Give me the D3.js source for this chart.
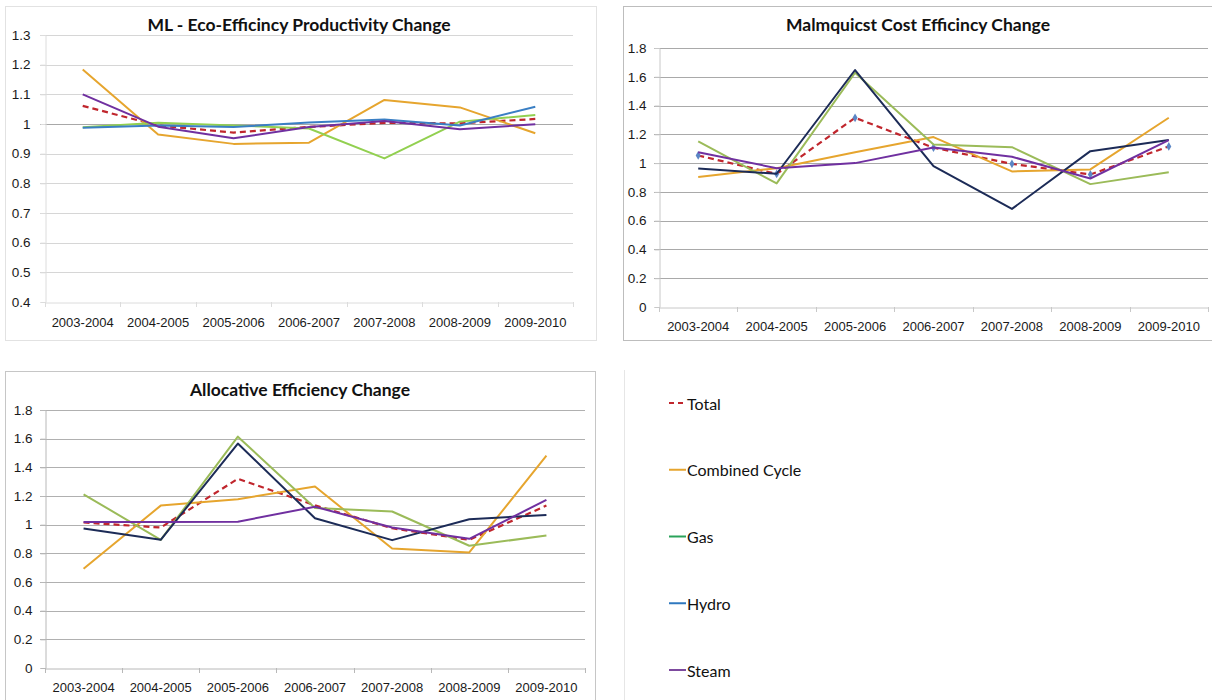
<!DOCTYPE html>
<html>
<head>
<meta charset="utf-8">
<script src="https://cdn.jsdelivr.net/npm/d3@7"></script>
<style>
  html, body { margin: 0; padding: 0; background: #fff; }
  svg { display: block; font-family: Lato, "Noto Sans", sans-serif; }
</style>
</head>
<body>
<svg id="chart" width="1212" height="700"></svg>
<script>
// ---------- DATA ----------
const categories = ["2003-2004","2004-2005","2005-2006","2006-2007","2007-2008","2008-2009","2009-2010"];
const seriesNames = ["Total","Combined Cycle","Gas","Hydro","Steam"];

// ML - Eco-Efficincy Productivity Change
const ecoTicks = [0.4,0.5,0.6,0.7,0.8,0.9,1,1.1,1.2,1.3];
const ecoTotal    = [1.061, 0.995, 0.971, 0.990, 1.004, 1.002, 1.017];
const ecoCombined = [1.184, 0.965, 0.933, 0.937, 1.081, 1.056, 0.969];
const ecoGas      = [0.989, 1.004, 0.995, 0.985, 0.884, 1.008, 1.030];
const ecoHydro    = [0.987, 0.995, 0.990, 1.005, 1.015, 0.995, 1.058];
const ecoSteam    = [1.100, 0.991, 0.952, 0.990, 1.010, 0.982, 0.999];

// Malmquicst Cost Efficincy Change
const costTicks = [0,0.2,0.4,0.6,0.8,1,1.2,1.4,1.6,1.8];
const costTotal    = [1.053, 0.925, 1.315, 1.107, 0.995, 0.921, 1.116];
const costCombined = [0.903, 0.965, 1.076, 1.181, 0.942, 0.956, 1.315];
const costGas      = [1.151, 0.859, 1.628, 1.130, 1.111, 0.854, 0.937];
const costHydro    = [0.963, 0.926, 1.647, 0.979, 0.682, 1.083, 1.160];
const costSteam    = [1.076, 0.965, 1.000, 1.109, 1.044, 0.893, 1.160];

// Allocative Efficiency Change
const allocTicks = [0,0.2,0.4,0.6,0.8,1,1.2,1.4,1.6,1.8];
const allocTotal    = [1.015, 0.980, 1.320, 1.135, 0.975, 0.894, 1.133];
const allocCombined = [0.692, 1.133, 1.178, 1.266, 0.834, 0.806, 1.482];
const allocGas      = [1.212, 0.894, 1.614, 1.117, 1.092, 0.853, 0.924];
const allocHydro    = [0.973, 0.894, 1.566, 1.045, 0.892, 1.038, 1.068];
const allocSteam    = [1.019, 1.019, 1.021, 1.125, 0.980, 0.901, 1.173];

// ---------- DRAWING ----------
const svg = d3.select("#chart");

function drawPanel(cfg) {
  const g = svg.append("g");
  g.append("rect")
    .attr("x", cfg.box[0] + 0.5).attr("y", cfg.box[1] + 0.5)
    .attr("width", cfg.box[2]).attr("height", cfg.box[3])
    .attr("fill", "none").attr("stroke", cfg.borderColor).attr("stroke-width", 1);

  const x = d3.scaleBand().domain(categories).range([cfg.left, cfg.right]).paddingInner(0).paddingOuter(0);
  const y = d3.scaleLinear().domain(cfg.domain).range([cfg.bottom, cfg.top]);
  const cx = c => x(c) + x.bandwidth() / 2;

  g.append("g").selectAll("line")
    .data(cfg.ticks.filter(t => t !== cfg.domain[0]))
    .join("line")
    .attr("x1", cfg.left - 5).attr("x2", cfg.right)
    .attr("y1", d => Math.round(y(d)) + 0.5).attr("y2", d => Math.round(y(d)) + 0.5)
    .attr("stroke", d => (cfg.oneLine && d === 1) ? cfg.oneLine : cfg.gridColor)
    .attr("stroke-width", 1);

  const yAxis = d3.axisLeft(y).tickValues(cfg.ticks).tickSize(5).tickPadding(cfg.labelPad)
    .tickFormat(d => d3.format("~g")(d));
  const ya = g.append("g").attr("transform", `translate(${cfg.left + 0.5},0)`).call(yAxis);
  ya.select(".domain").attr("stroke", cfg.axisColor);
  ya.selectAll(".tick line").attr("stroke", cfg.axisColor);
  ya.selectAll(".tick text").attr("font-size", 13.5).attr("fill", "#1a1a1a");

  const xAxis = d3.axisBottom(x).tickSize(0).tickPadding(cfg.xPad);
  const xa = g.append("g").attr("transform", `translate(0,${Math.round(cfg.bottom) + 0.5})`).call(xAxis);
  xa.select(".domain").attr("stroke", cfg.axisColor);
  xa.selectAll(".tick text").attr("font-size", 13).attr("fill", "#1a1a1a");
  const edges = categories.map(c => x(c)).concat([cfg.right]);
  g.append("g").selectAll("line").data(edges).join("line")
    .attr("x1", d => Math.round(d) + 0.5).attr("x2", d => Math.round(d) + 0.5)
    .attr("y1", Math.round(cfg.bottom)).attr("y2", Math.round(cfg.bottom) + 5)
    .attr("stroke", cfg.axisColor);

  g.append("text")
    .attr("x", cfg.titleX).attr("y", cfg.titleY)
    .attr("text-anchor", "middle").attr("dominant-baseline", "central")
    .attr("font-size", 17.5).attr("font-weight", "bold").attr("fill", "#111")
    .text(cfg.title);

  const line = d3.line().x((d, i) => cx(categories[i])).y(d => y(d));
  cfg.series.forEach(s => {
    g.append("path")
      .datum(s.values)
      .attr("d", line)
      .attr("fill", "none")
      .attr("stroke", s.color)
      .attr("stroke-width", s.width || 2)
      .attr("stroke-dasharray", s.dash || null)
      .attr("stroke-linejoin", "round");
    if (s.marker) {
      g.append("g").selectAll("path").data(s.values).join("path")
        .attr("d", d3.symbol(d3.symbolDiamond, 22))
        .attr("transform", (d, i) => `translate(${cx(categories[i])},${y(d)})`)
        .attr("fill", s.marker);
    }
  });
}

const red = "#c0262d", gold = "#e6a52e", purple = "#7030a0";

drawPanel({
  box: [5, 6, 591, 334], borderColor: "#e2e2e2",
  left: 45, right: 573, top: 35, bottom: 302, domain: [0.4, 1.3], ticks: ecoTicks,
  gridColor: "#d6d6d6", oneLine: "#a8a8a8", axisColor: "#dcdcdc", labelPad: 10, xPad: 15,
  title: "ML - Eco-Efficincy Productivity Change", titleX: 299, titleY: 24,
  series: [
    { values: ecoTotal, color: red, dash: "6,4", width: 2.2 },
    { values: ecoCombined, color: gold },
    { values: ecoGas, color: "#92d050" },
    { values: ecoHydro, color: "#3a7fc4" },
    { values: ecoSteam, color: purple }
  ]
});

drawPanel({
  box: [623, 6, 600, 334], borderColor: "#bdbdbd",
  left: 659, right: 1208, top: 48, bottom: 307, domain: [0, 1.8], ticks: costTicks,
  gridColor: "#a9a9a9", axisColor: "#c8c8c8", labelPad: 8, xPad: 14,
  title: "Malmquicst Cost Efficincy Change", titleX: 918, titleY: 24,
  series: [
    { values: costTotal, color: red, dash: "6,4", width: 2.2, marker: "#5b86c5" },
    { values: costCombined, color: gold },
    { values: costGas, color: "#9bbb59" },
    { values: costHydro, color: "#1c2b57" },
    { values: costSteam, color: purple }
  ]
});

drawPanel({
  box: [5, 371, 590, 340], borderColor: "#c6c6c6",
  left: 45, right: 585, top: 410, bottom: 668, domain: [0, 1.8], ticks: allocTicks,
  gridColor: "#b0b0b0", axisColor: "#b8b8b8", labelPad: 8, xPad: 14,
  title: "Allocative Efficiency Change", titleX: 300, titleY: 389,
  series: [
    { values: allocTotal, color: red, dash: "6,4", width: 2.2 },
    { values: allocCombined, color: gold },
    { values: allocGas, color: "#9bbb59" },
    { values: allocHydro, color: "#1c2b57" },
    { values: allocSteam, color: purple }
  ]
});

// legend panel
svg.append("line").attr("x1", 624.5).attr("x2", 624.5).attr("y1", 370).attr("y2", 700)
  .attr("stroke", "#e6e6e6");
const legendColors = [red, gold, "#2aa35a", "#2f78bf", "#7d4a9e"];
const legendY = d3.scalePoint().domain(seriesNames).range([403, 670]);
const lg = svg.append("g").selectAll("g").data(seriesNames).join("g")
  .attr("transform", d => `translate(669,${legendY(d)})`);
lg.append("line").attr("x1", 0).attr("x2", 17).attr("y1", 0).attr("y2", 0)
  .attr("stroke", (d, i) => legendColors[i]).attr("stroke-width", 2)
  .attr("stroke-dasharray", (d, i) => i === 0 ? "5,4" : null);
lg.append("text").attr("x", 18).attr("y", 0).attr("dominant-baseline", "central")
  .attr("font-size", 16).attr("fill", "#111").text(d => d);
</script>
</body>
</html>
